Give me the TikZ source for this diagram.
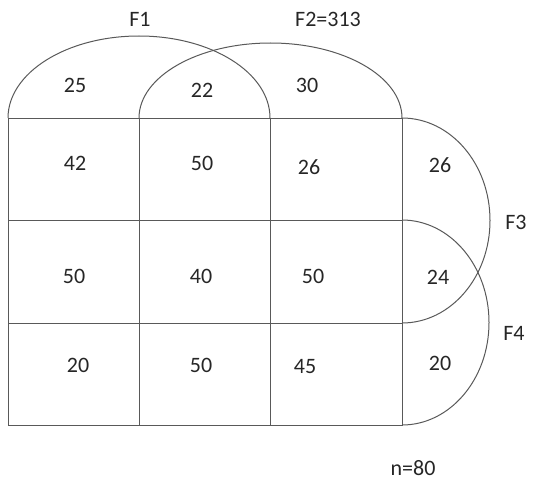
\documentclass[tikz,border=0pt]{standalone}
\usepackage{fontspec}
\setmainfont{Carlito}
\begin{document}
\begin{tikzpicture}[x=1pt,y=-1pt,
  ln/.style={draw=black!65,line width=1pt},
  lbl/.style={font=\fontsize{22}{26}\selectfont,text=black!85,inner sep=0pt}]
\useasboundingbox (0,0) rectangle (534,484);
% grid
\draw[ln] (8,118) rectangle (402,425);
\draw[ln] (139,118) -- (139,425);
\draw[ln] (270,118) -- (270,425);
\draw[ln] (8,220) -- (402,220);
\draw[ln] (8,323) -- (402,323);
% top arcs
\draw[ln] (8,118) arc[start angle=180,end angle=0,x radius=131,y radius=-82];
\draw[ln] (139,118) arc[start angle=180,end angle=0,x radius=131.5,y radius=-75];
% right arcs
\draw[ln] (402,118) arc[start angle=90,end angle=-90,x radius=88,y radius=-102.5];
\draw[ln] (402,220) arc[start angle=90,end angle=-90,x radius=87,y radius=-102.5];
% labels
\node[lbl] (f1) at (140,19) {F1};
\node[lbl] (f2) at (328,19) {F2=313};
\node[lbl] (t1) at (75,85) {25};
\node[lbl] (t2) at (202,90) {22};
\node[lbl] (t3) at (307,85) {30};
\node[lbl] (c11) at (75,163) {42};
\node[lbl] (c12) at (202,163) {50};
\node[lbl] (c13) at (309,167) {26};
\node[lbl] (c21) at (74,276) {50};
\node[lbl] (c22) at (201,276) {40};
\node[lbl] (c23) at (313,276) {50};
\node[lbl] (c31) at (78,365) {20};
\node[lbl] (c32) at (201,365) {50};
\node[lbl] (c33) at (305,367) {45};
\node[lbl] (r1) at (440,165) {26};
\node[lbl] (r2) at (438,277) {24};
\node[lbl] (r3) at (440,363) {20};
\node[lbl] (f3) at (516,222) {F3};
\node[lbl] (f4) at (514,333) {F4};
\node[lbl] (n) at (413,468) {n=80};
\end{tikzpicture}
\end{document}
